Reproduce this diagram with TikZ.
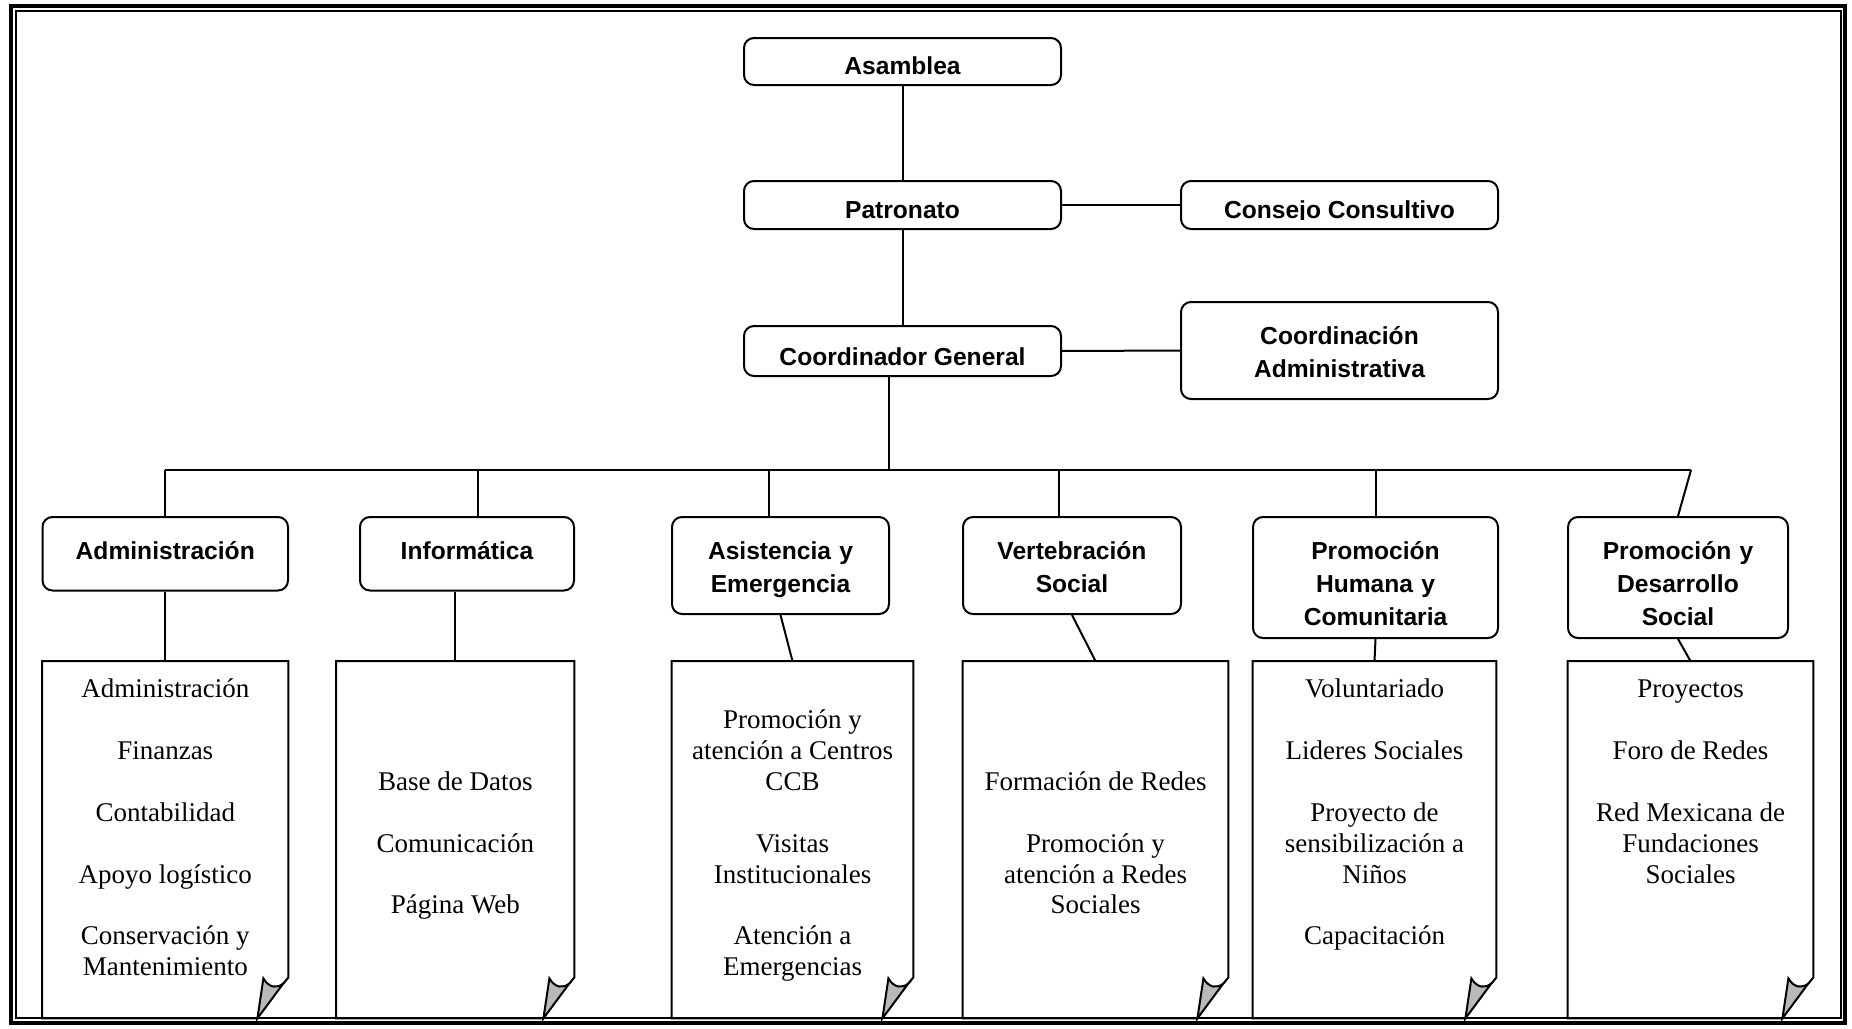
\documentclass[tikz,border=0pt]{standalone}
\usepackage{fontspec}
\setmainfont{Liberation Serif}
\newfontfamily\hdfont{Liberation Sans}
\usetikzlibrary{fit,calc}
\newcommand\blankln{\\[15.45pt]}
\newcommand\docfold[1]{%
  \draw[docln] ($(#1.south east)+(-31,0)$) -- (#1.south west) -- (#1.north west) -- (#1.north east) -- ($(#1.south east)+(0,-41)$) -- ($(#1.south east)+(-5,-35)$);
  \filldraw[docln, fill=gray!55] ($(#1.south east)+(-5,-35)$)
    .. controls ($(#1.south east)+(-11,-30)$) and ($(#1.south east)+(-19,-30)$) .. ($(#1.south east)+(-25,-40)$)
    -- ($(#1.south east)+(-31,0)$) -- cycle;
}
\begin{document}
\begin{tikzpicture}[x=0.5pt,y=-0.5pt,
  box/.style={draw, line width=1pt, rounded corners=5pt, inner sep=0pt},
  hfont/.style={font=\hdfont\bfseries\fontsize{12.3}{16.5}\selectfont},
  toplbl/.style={path picture={
     \clip ([yshift=5pt]path picture bounding box.south west) rectangle (path picture bounding box.north east);
     \node[hfont, anchor=base, inner sep=0pt] at ([yshift=5.5pt]path picture bounding box.south) {#1};}},
  seclbl/.style={path picture={
     \clip ([yshift=6.5pt]path picture bounding box.south west) rectangle (path picture bounding box.north east);
     \node[hfont, align=center, anchor=base, inner sep=0pt] at ([yshift=-21.4pt]path picture bounding box.north) {#1};}},
  docnode/.style={inner sep=0pt, draw=none},
  doctext/.style={font=\fontsize{13.5}{15.45}\selectfont, align=center, anchor=base, inner sep=0pt},
  docln/.style={line width=1pt, line join=miter},
  conn/.style={line width=1pt},
]
\useasboundingbox (0,0) rectangle (1852,1028);
% frame
\draw[line width=2pt] (11.3,5.7) rectangle (1845,1023);
\draw[line width=1pt] (16,10.7) rectangle (1840.5,1018);

% top boxes
\node[box, fit={(744,38)(1061,85)}, toplbl=Asamblea] (asam) {};
\node[box, fit={(744,181)(1061,229)}, toplbl=Patronato] (pat) {};
\node[box, fit={(1181,181)(1498,229)}, toplbl={Consejo Consultivo}] (cons) {};
\node[box, fit={(744,326)(1061,376)}, toplbl={Coordinador General}] (cg) {};
\node[box, fit={(1181,302)(1498,399)}, seclbl={Coordinación\\Administrativa}] (cadm) {};

% second level
\node[box, fit={(42.5,517)(288,590.5)}, seclbl={Administración}] (adm) {};
\node[box, fit={(360,517)(574,590.5)}, seclbl={Informática}] (inf) {};
\node[box, fit={(672,517)(889,614)}, seclbl={Asistencia y\\Emergencia}] (asis) {};
\node[box, fit={(963,517)(1181,614)}, seclbl={Vertebración\\Social}] (vert) {};
\node[box, fit={(1253,517)(1498,638)}, seclbl={Promoción\\Humana y\\Comunitaria}] (phum) {};
\node[box, fit={(1568,517)(1788,638)}, seclbl={Promoción y\\Desarrollo\\Social}] (pdes) {};

% documents
\node[docnode, fit={(42.5,661.5)(288,1018)}] (d1) {};
\node[docnode, fit={(336.6,661.5)(574,1018)}] (d2) {};
\node[docnode, fit={(672,661.5)(913,1018)}] (d3) {};
\node[docnode, fit={(963,661.5)(1228,1018)}] (d4) {};
\node[docnode, fit={(1253,661.5)(1496,1018)}] (d5) {};
\node[docnode, fit={(1568,661.5)(1813,1018)}] (d6) {};
\docfold{d1}\docfold{d2}\docfold{d3}\docfold{d4}\docfold{d5}\docfold{d6}

% doc texts: the base anchor of these nodes lies on their last line
\node[doctext] (t1) at ($(d1.north)+(0,314.6)$) {Administración\blankln Finanzas\blankln Contabilidad\blankln Apoyo logístico\blankln Conservación y\\Mantenimiento};
\node[doctext] (t2) at ($(d2.north)+(0,252.8)$) {Base de Datos\blankln Comunicación\blankln Página Web};
\node[doctext] (t3) at ($(d3.north)+(0,314.6)$) {Promoción y\\atención a Centros\\CCB\blankln Visitas\\Institucionales\blankln Atención a\\Emergencias};
\node[doctext] (t4) at ($(d4.north)+(0,252.8)$) {Formación de Redes\blankln Promoción y\\atención a Redes\\Sociales};
\node[doctext] (t5) at ($(d5.north)+(0,283.7)$) {Voluntariado\blankln Lideres Sociales\blankln Proyecto de\\sensibilización a\\Niños\blankln Capacitación};
\node[doctext] (t6) at ($(d6.north)+(0,221.9)$) {Proyectos\blankln Foro de Redes\blankln Red Mexicana de\\Fundaciones\\Sociales};

% connectors
\draw[conn] (asam) -- (pat);
\draw[conn] (pat) -- (cg);
\draw[conn] (pat) -- (cons);
\draw[conn] (cg) -- (cadm);
\coordinate (bj) at (889,470);
\coordinate (bl) at (165,470);
\coordinate (br) at (1691,470);
\coordinate (b2) at (478,470);
\coordinate (b3) at (769,470);
\coordinate (b4) at (1059,470);
\coordinate (b5) at (1376,470);
\draw[conn] (cg.south -| bj) -- (bj);
\draw[conn] (bl) -- (br);
\draw[conn] (bl) -- (adm.north -| bl);
\draw[conn] (b2) -- (inf.north -| b2);
\draw[conn] (b3) -- (asis.north -| b3);
\draw[conn] (b4) -- (vert.north -| b4);
\draw[conn] (b5) -- (phum.north -| b5);
\draw[conn] (br) -- (pdes.north);

\draw[conn] (adm.south) -- (d1.north);
\draw[conn] (inf.south -| d2.north) -- (d2.north);
\draw[conn] (asis.south) -- (d3.north);
\draw[conn] (vert.south) -- (d4.north);
\draw[conn] (phum.south) -- (d5.north);
\draw[conn] (pdes.south) -- (d6.north);
\end{tikzpicture}
\end{document}
